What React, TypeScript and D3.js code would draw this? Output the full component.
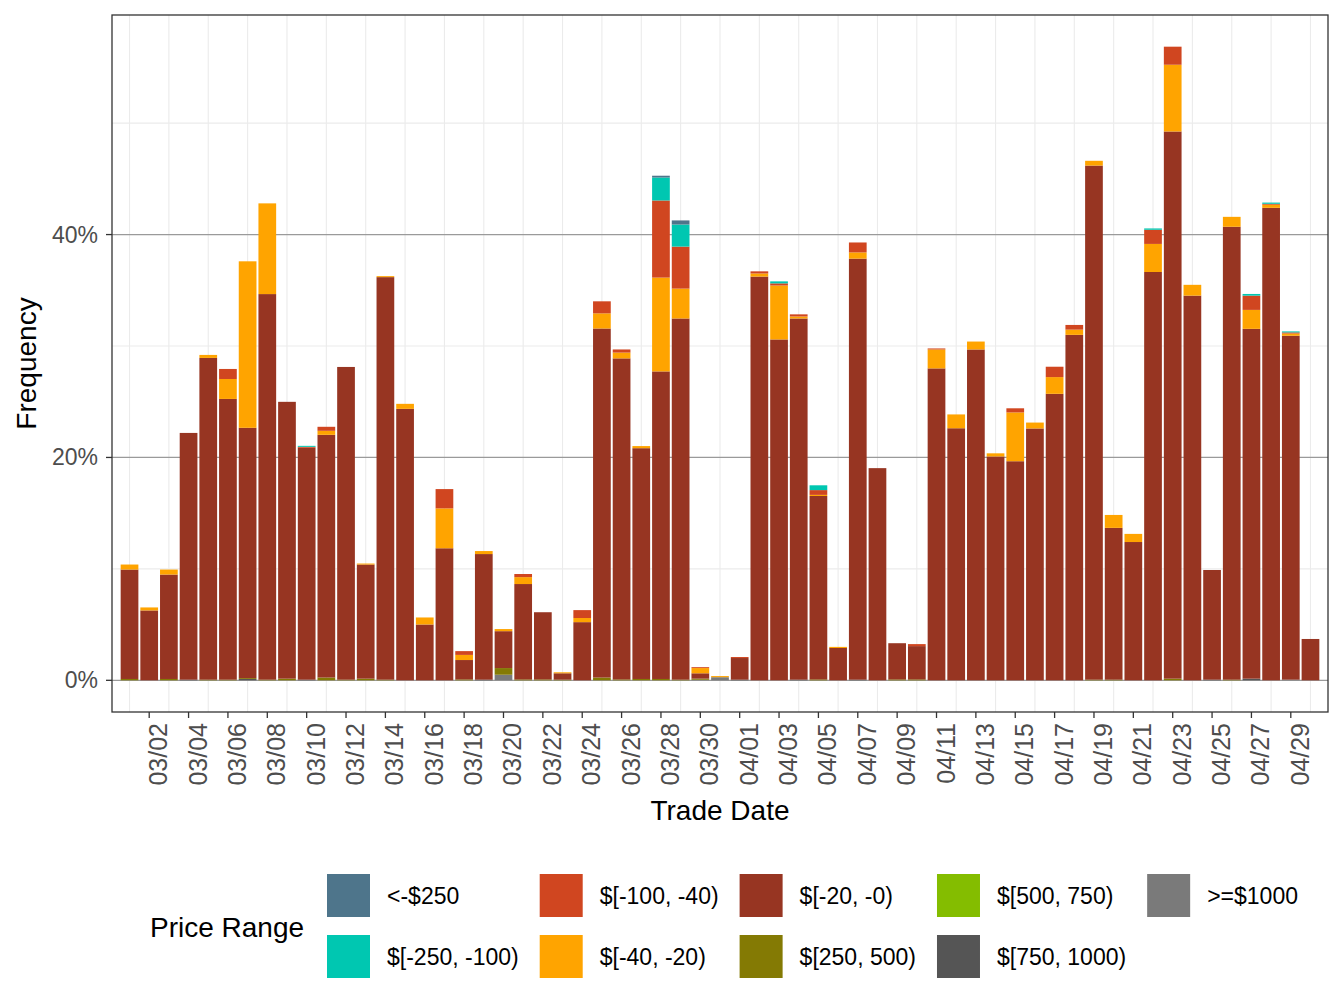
import React, { useEffect, useRef } from 'react';
import * as d3 from 'd3';

// trade dates 03/01 .. 04/30
const dates = d3.timeDay.range(new Date(2020, 2, 1), new Date(2020, 4, 1)).map(d3.timeFormat('%m/%d'));

const priceRanges = [
  '<-$250',
  '$[-250, -100)',
  '$[-100, -40)',
  '$[-40, -20)',
  '$[-20, -0)',
  '$[250, 500)',
  '$[500, 750)',
  '$[750, 1000)',
  '>=$1000',
];

const rangeColors = ['#4E758B', '#00C7B1', '#D04620', '#FFA400', '#973522', '#847A04', '#84BD00', '#555555', '#7A7A7A'];

// frequency (%) per day, one array per price range
const below250 = [
  0, 0, 0, 0, 0, 0, 0, 0, 0, 0,
  0, 0, 0, 0, 0, 0, 0, 0, 0, 0,
  0, 0, 0, 0, 0, 0, 0, 0.16, 0.37, 0,
  0, 0, 0, 0, 0, 0, 0, 0, 0, 0,
  0, 0, 0, 0, 0, 0, 0, 0, 0, 0,
  0, 0, 0, 0, 0, 0, 0, 0, 0, 0,
  0,
];
const m250to100 = [
  0, 0, 0, 0, 0, 0, 0, 0, 0, 0.09,
  0, 0, 0, 0, 0, 0, 0, 0, 0, 0,
  0, 0, 0, 0, 0, 0, 0, 2.06, 1.98, 0,
  0, 0, 0, 0.18, 0, 0.43, 0, 0, 0, 0,
  0, 0, 0, 0, 0, 0, 0, 0, 0, 0,
  0, 0, 0.12, 0, 0, 0, 0, 0.15, 0.11, 0.09,
  0,
];
const m100to40 = [
  0, 0, 0, 0, 0, 0.9, 0, 0, 0, 0.08,
  0.36, 0, 0, 0, 0, 0, 1.73, 0.34, 0, 0,
  0.28, 0, 0, 0.71, 1.08, 0.28, 0, 6.92, 3.77, 0.08,
  0, 0.09, 0.19, 0.19, 0.19, 0.43, 0, 0.89, 0, 0,
  0.18, 0.09, 0, 0, 0, 0.37, 0, 0.93, 0.42, 0,
  0, 0, 1.27, 1.62, 0, 0, 0, 1.28, 0.08, 0.1,
  0,
];
const m40to20 = [
  0.45, 0.27, 0.45, 0, 0.27, 1.79, 14.94, 8.14, 0, 0,
  0.36, 0, 0.09, 0.09, 0.45, 0.63, 3.58, 0.46, 0.27, 0.19,
  0.62, 0, 0.09, 0.37, 1.36, 0.52, 0.19, 8.42, 2.68, 0.47,
  0.1, 0, 0.28, 4.84, 0.18, 0.1, 0.1, 0.56, 0, 0,
  0, 1.7, 1.24, 0.71, 0.28, 4.38, 0.53, 1.5, 0.47, 0.43,
  1.16, 0.73, 2.52, 5.99, 0.97, 0, 0.89, 1.7, 0.28, 0.2,
  0,
];
const m20to0 = [
  9.82, 6.27, 9.37, 22.14, 28.87, 25.19, 22.46, 34.6, 24.84, 20.81,
  21.78, 28.06, 10.24, 36.12, 24.36, 5.01, 11.85, 1.74, 11.27, 3.31,
  8.56, 6.03, 0.57, 5.22, 31.32, 28.81, 20.71, 27.6, 32.41, 0.48,
  0, 1.94, 36.23, 30.59, 32.41, 16.46, 2.9, 37.78, 19.04, 3.25,
  2.99, 27.99, 22.62, 29.69, 20.09, 19.66, 22.6, 25.71, 31.0, 46.13,
  13.62, 12.41, 36.64, 49.1, 34.52, 9.84, 40.64, 31.39, 42.4, 30.86,
  3.71,
];
const p250to500 = [
  0.12, 0, 0.12, 0, 0.06, 0.06, 0.08, 0.06, 0.15, 0,
  0.25, 0.06, 0.15, 0.06, 0, 0, 0, 0.08, 0, 0.6,
  0.08, 0.08, 0.06, 0, 0.25, 0.08, 0.12, 0.12, 0.06, 0.1,
  0, 0, 0, 0, 0, 0.08, 0, 0, 0, 0.08,
  0.08, 0, 0, 0, 0, 0, 0, 0, 0, 0.06,
  0.06, 0, 0, 0.15, 0, 0, 0.06, 0, 0, 0,
  0,
];
const p500to750 = [
  0, 0, 0, 0, 0, 0, 0, 0, 0, 0,
  0, 0, 0, 0, 0, 0, 0, 0, 0, 0,
  0, 0, 0, 0, 0, 0, 0, 0, 0, 0,
  0, 0, 0, 0, 0, 0, 0, 0, 0, 0,
  0, 0, 0, 0, 0, 0, 0, 0, 0, 0,
  0, 0, 0, 0, 0, 0, 0, 0, 0, 0,
  0,
];
const p750to1000 = [
  0, 0, 0, 0.06, 0, 0, 0.12, 0, 0, 0.06,
  0, 0, 0, 0, 0, 0, 0, 0, 0.06, 0,
  0, 0, 0, 0, 0, 0, 0, 0, 0, 0,
  0, 0.06, 0, 0, 0.06, 0, 0, 0.06, 0, 0,
  0, 0, 0, 0, 0, 0, 0, 0, 0, 0,
  0, 0, 0, 0, 0, 0.06, 0, 0.15, 0, 0,
  0,
];
const above1000 = [
  0, 0, 0, 0, 0, 0, 0, 0, 0, 0,
  0, 0, 0, 0, 0, 0, 0, 0, 0, 0.5,
  0, 0, 0, 0, 0, 0, 0, 0, 0, 0.05,
  0.28, 0, 0, 0, 0, 0, 0, 0, 0, 0,
  0, 0, 0, 0, 0, 0, 0, 0, 0, 0,
  0, 0, 0, 0, 0, 0, 0, 0, 0, 0.06,
  0,
];

const seriesValues = [below250, m250to100, m100to40, m40to20, m20to0, p250to500, p500to750, p750to1000, above1000];

const yTicks = [0, 20, 40];
const yMinor = [10, 30, 50];

const FONT = '"Liberation Sans", Arial, Helvetica, sans-serif';

const App = () => {
  const ref = useRef<SVGSVGElement>(null);

  useEffect(() => {
    const root = d3.select(ref.current);
    root.selectAll('*').remove();

    const width = 1344;
    const height = 1008;
    const panel = { left: 112, right: 1328, top: 15, bottom: 712 };

    const rows = dates.map((d, i) => {
      const row: any = { date: d };
      priceRanges.forEach((k, j) => (row[k] = seriesValues[j][i]));
      return row;
    });

    // ggplot stacks the first level on top
    const stackKeys = priceRanges.slice().reverse();
    const stacked = d3.stack().keys(stackKeys)(rows);

    const maxTotal = d3.max(rows, (r: any) => d3.sum(priceRanges, k => r[k])) as number;

    const x = d3
      .scaleBand()
      .domain(dates)
      .range([panel.left, panel.right])
      .paddingInner(0.1)
      .paddingOuter(0.44);

    const y = d3
      .scaleLinear()
      .domain([-maxTotal * 0.05, maxTotal * 1.05])
      .range([panel.bottom, panel.top]);

    const svg = root.attr('width', width).attr('height', height);

    svg.append('rect').attr('width', width).attr('height', height).attr('fill', '#fff');

    // grid
    const grid = svg.append('g');
    const tickDates = dates.filter((d, i) => i % 2 === 1);
    const minorDates = dates.filter((d, i) => i % 2 === 0);
    grid
      .selectAll('.vminor')
      .data(minorDates)
      .enter()
      .append('line')
      .attr('x1', d => (x(d) as number) + x.bandwidth() / 2)
      .attr('x2', d => (x(d) as number) + x.bandwidth() / 2)
      .attr('y1', panel.top)
      .attr('y2', panel.bottom)
      .attr('stroke', '#ebebeb')
      .attr('stroke-width', 1.1);
    grid
      .selectAll('.hminor')
      .data(yMinor)
      .enter()
      .append('line')
      .attr('x1', panel.left)
      .attr('x2', panel.right)
      .attr('y1', d => y(d))
      .attr('y2', d => y(d))
      .attr('stroke', '#ebebeb')
      .attr('stroke-width', 1.1);
    grid
      .selectAll('.hmajor')
      .data(yTicks)
      .enter()
      .append('line')
      .attr('x1', panel.left)
      .attr('x2', panel.right)
      .attr('y1', d => y(d))
      .attr('y2', d => y(d))
      .attr('stroke', '#9a9a9a')
      .attr('stroke-width', 1.3);

    // bars
    svg
      .append('g')
      .selectAll('g')
      .data(stacked)
      .enter()
      .append('g')
      .attr('fill', d => rangeColors[priceRanges.indexOf(d.key)])
      .selectAll('rect')
      .data(d => d)
      .enter()
      .append('rect')
      .attr('x', d => x((d.data as any).date) as number)
      .attr('width', x.bandwidth())
      .attr('y', d => y(d[1]))
      .attr('height', d => Math.max(0, y(d[0]) - y(d[1])));

    // panel border
    svg
      .append('rect')
      .attr('x', panel.left)
      .attr('y', panel.top)
      .attr('width', panel.right - panel.left)
      .attr('height', panel.bottom - panel.top)
      .attr('fill', 'none')
      .attr('stroke', '#333333')
      .attr('stroke-width', 1.3);

    // x axis
    const xAxis = svg.append('g');
    xAxis
      .selectAll('line')
      .data(tickDates)
      .enter()
      .append('line')
      .attr('x1', d => (x(d) as number) + x.bandwidth() / 2)
      .attr('x2', d => (x(d) as number) + x.bandwidth() / 2)
      .attr('y1', panel.bottom)
      .attr('y2', panel.bottom + 6)
      .attr('stroke', '#333333')
      .attr('stroke-width', 1.3);
    xAxis
      .selectAll('text')
      .data(tickDates)
      .enter()
      .append('text')
      .attr('transform', d => 'translate(' + ((x(d) as number) + x.bandwidth() / 2 + 9) + ',' + (panel.bottom + 11) + ') rotate(-90)')
      .attr('text-anchor', 'end')
      .attr('dominant-baseline', 'central')
      .attr('font-family', FONT)
      .attr('font-size', 25)
      .attr('fill', '#4d4d4d')
      .text(d => d);

    // y axis
    const yAxis = svg.append('g');
    yAxis
      .selectAll('line')
      .data(yTicks)
      .enter()
      .append('line')
      .attr('x1', panel.left - 6)
      .attr('x2', panel.left)
      .attr('y1', d => y(d))
      .attr('y2', d => y(d))
      .attr('stroke', '#333333')
      .attr('stroke-width', 1.3);
    yAxis
      .selectAll('text')
      .data(yTicks)
      .enter()
      .append('text')
      .attr('x', panel.left - 14)
      .attr('y', d => y(d))
      .attr('text-anchor', 'end')
      .attr('dominant-baseline', 'central')
      .attr('font-family', FONT)
      .attr('font-size', 23)
      .attr('fill', '#4d4d4d')
      .text(d => d + '%');

    // axis titles
    svg
      .append('text')
      .attr('x', (panel.left + panel.right) / 2)
      .attr('y', 820)
      .attr('text-anchor', 'middle')
      .attr('font-family', FONT)
      .attr('font-size', 28)
      .attr('fill', '#000')
      .text('Trade Date');
    svg
      .append('text')
      .attr('transform', 'translate(36,' + (panel.top + panel.bottom) / 2 + ') rotate(-90)')
      .attr('text-anchor', 'middle')
      .attr('font-family', FONT)
      .attr('font-size', 28)
      .attr('fill', '#000')
      .text('Frequency');

    // legend
    const legend = svg.append('g');
    legend
      .append('text')
      .attr('x', 150)
      .attr('y', 927)
      .attr('dominant-baseline', 'central')
      .attr('font-family', FONT)
      .attr('font-size', 28)
      .attr('fill', '#000')
      .text('Price Range');

    const keySize = 43;
    const rowY = [874, 935];
    let colX = 327;
    for (let c = 0; c * 2 < priceRanges.length; c++) {
      let maxW = 0;
      for (let r = 0; r < 2; r++) {
        const idx = c * 2 + r;
        if (idx >= priceRanges.length) break;
        legend
          .append('rect')
          .attr('x', colX)
          .attr('y', rowY[r])
          .attr('width', keySize)
          .attr('height', keySize)
          .attr('fill', rangeColors[idx]);
        const t = legend
          .append('text')
          .attr('x', colX + keySize + 17)
          .attr('y', rowY[r] + keySize / 2)
          .attr('dominant-baseline', 'central')
          .attr('font-family', FONT)
          .attr('font-size', 23)
          .attr('fill', '#000')
          .text(priceRanges[idx]);
        const w = (t.node() as SVGTextElement).getComputedTextLength();
        if (w > maxW) maxW = w;
      }
      colX += keySize + 17 + maxW + 21;
    }
  }, []);

  return <svg ref={ref} style={{ position: 'absolute', left: 0, top: 0 }} />;
};

export default App;
